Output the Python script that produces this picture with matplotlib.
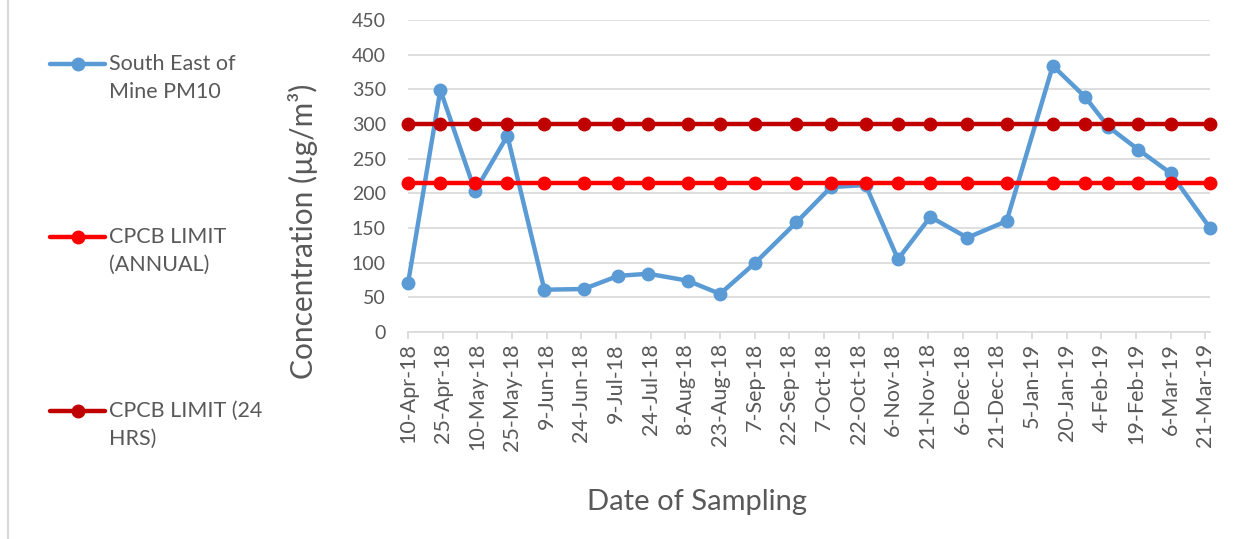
import datetime
import matplotlib
matplotlib.use("Agg")
import matplotlib.pyplot as plt
from matplotlib.lines import Line2D

# sampling dates and PM10 readings
sample_dates = ["2018-04-10", "2018-04-24", "2018-05-09", "2018-05-23", "2018-06-08",
                "2018-06-25", "2018-07-10", "2018-07-23", "2018-08-09", "2018-08-23",
                "2018-09-07", "2018-09-25", "2018-10-10", "2018-10-25", "2018-11-08",
                "2018-11-22", "2018-12-08", "2018-12-25", "2019-01-14", "2019-01-28",
                "2019-02-07", "2019-02-20", "2019-03-06", "2019-03-23"]
pm10 = [70, 349, 203, 283, 61, 62, 81, 84, 74, 55, 99, 158,
        209, 212, 105, 166, 136, 160, 384, 339, 296, 263, 229, 150]
limit_annual = [215] * len(pm10)
limit_24hrs = [300] * len(pm10)

series_names = ["South East of\nMine PM10", "CPCB LIMIT\n(ANNUAL)", "CPCB LIMIT (24\nHRS)"]
series_colors = ["#5B9BD5", "#FF0000", "#C00000"]

dates = [datetime.datetime.strptime(d, "%Y-%m-%d") for d in sample_dates]

plt.rcParams["font.family"] = ["Lato", "DejaVu Sans"]
txt = "#595959"

W, H = 1252, 539
fig = plt.figure(figsize=(W / 100, H / 100), dpi=100)
ax = fig.add_axes([408 / W, 1 - 332 / H, (1210 - 408) / W, (332 - 20) / H])

handles = []
for vals, name, col in zip([pm10, limit_annual, limit_24hrs], series_names, series_colors):
    h, = ax.plot(dates, vals, color=col, lw=3.2, marker="o", ms=9,
                 solid_capstyle="round", label=name, clip_on=False)
    handles.append(h)

ax.set_ylim(0, 450)
ax.set_yticks(range(0, 451, 50))
ax.set_xlim(dates[0], dates[-1])
ticks = [dates[0] + datetime.timedelta(days=15 * k) for k in range(24)]
ax.set_xticks(ticks)
ax.set_xticklabels([f"{t.day}-{t.strftime('%b-%y')}" for t in ticks], rotation=90)

ax.grid(axis="y", color="#D9D9D9", lw=1.2)
ax.set_axisbelow(True)
for s in ["top", "right", "left"]:
    ax.spines[s].set_visible(False)
ax.spines["bottom"].set_color("#D9D9D9")
ax.spines["bottom"].set_linewidth(1.2)
ax.tick_params(axis="y", length=0, pad=16, labelsize=14, labelcolor=txt)
ax.tick_params(axis="x", length=5, width=1.2, color="#D9D9D9", pad=3,
               labelsize=15.5, labelcolor=txt)

fig.text(303 / W, 1 - 231 / H, "Concentration (µg/m³)", rotation=90,
         ha="center", va="center", fontsize=21.5, color=txt)
fig.text(697 / W, 1 - 502 / H, "Date of Sampling", ha="center", va="center",
         fontsize=21, color=txt)

# legend on the left: handle level with the first text line
for h, ypix in zip(handles, [64, 237, 411]):
    yf = 1 - ypix / H
    fig.add_artist(Line2D([50 / W, 105 / W], [yf, yf], color=h.get_color(), lw=3.2,
                          solid_capstyle="round"))
    fig.add_artist(Line2D([77.5 / W], [yf], color=h.get_color(), marker="o", ms=9))
    fig.text(109 / W, 1 - (ypix - 10) / H, h.get_label(), ha="left", va="top",
             fontsize=15.5, color=txt, linespacing=1.5)

fig.add_artist(Line2D([8 / W, 8 / W], [0, 1], color="#D9D9D9", lw=1.5))

fig.savefig("out.png", dpi=100)
